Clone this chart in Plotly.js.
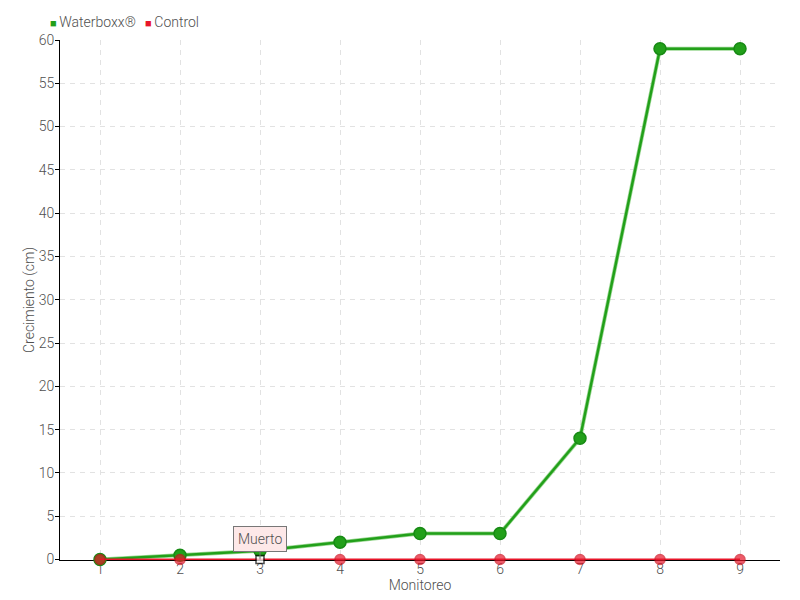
<!DOCTYPE html>
<html>
<head>
<meta charset="utf-8">
<script src="https://cdn.plot.ly/plotly-3.0.1.min.js"></script>
<style>html,body{margin:0;padding:0;background:#fff;}#chart{width:800px;height:600px;}</style>
</head>
<body>
<div id="chart"></div>
<script>
var categories = [1, 2, 3, 4, 5, 6, 7, 8, 9];
var waterboxx = [0, 0.5, 1, 2, 3, 3, 14, 59, 59];
var control = [0, 0, 0, 0, 0, 0, 0, 0, 0];
var seriesNames = ["Waterboxx®", "Control"];
var seriesColors = ["#22a01a", "#e8162a"];
var annotationText = "Muerto";
var annotationIndex = 2;

var fontFam = "Roboto, 'DejaVu Sans', sans-serif";
var txtColor = "#505050";
var fw = 300;

var ctrlSymbols = categories.map(function (c, i) { return i === annotationIndex ? "square" : "circle"; });
var ctrlColors = categories.map(function (c, i) { return i === annotationIndex ? "#ffffff" : seriesColors[1]; });
var ctrlLineColors = categories.map(function (c, i) { return i === annotationIndex ? "#000000" : "#d0101f"; });
var ctrlSizes = categories.map(function (c, i) { return i === annotationIndex ? 8 : 10; });

function legendLabel(name, color) {
  return '<span style="font-size:11px;color:' + color + '">■ </span>' + name;
}

var traces = [
  {
    x: categories, y: waterboxx, type: "scatter", mode: "lines",
    line: {color: "rgba(130,205,120,0.8)", width: 4}, showlegend: false, hoverinfo: "skip", cliponaxis: false
  },
  {
    x: categories, y: waterboxx, name: seriesNames[0], type: "scatter", mode: "lines+markers",
    line: {color: seriesColors[0], width: 2.5},
    marker: {color: seriesColors[0], size: 12, symbol: "circle", line: {color: "#178a14", width: 1.5}},
    hoverinfo: "skip", showlegend: false, cliponaxis: false
  },
  {
    x: categories, y: control, name: seriesNames[1], type: "scatter", mode: "lines+markers",
    line: {color: seriesColors[1], width: 2},
    marker: {color: ctrlColors, size: ctrlSizes, symbol: ctrlSymbols, line: {color: ctrlLineColors, width: 1.5}},
    hoverinfo: "skip", showlegend: false, cliponaxis: false
  },
  {
    x: [null], y: [null], name: legendLabel(seriesNames[0], seriesColors[0]), type: "scatter", mode: "markers",
    marker: {color: "rgba(0,0,0,0)", size: 1}, showlegend: true
  },
  {
    x: [null], y: [null], name: legendLabel(seriesNames[1], seriesColors[1]), type: "scatter", mode: "markers",
    marker: {color: "rgba(0,0,0,0)", size: 1}, showlegend: true
  }
];

var layout = {
  width: 800, height: 600,
  margin: {l: 60, r: 20, t: 40, b: 40, autoexpand: false},
  paper_bgcolor: "#ffffff", plot_bgcolor: "#ffffff",
  font: {family: fontFam, size: 14, color: txtColor, weight: fw},
  showlegend: true,
  legend: {orientation: "h", x: -0.0695, xanchor: "left", y: 1.0346, yanchor: "middle",
    font: {family: fontFam, size: 14, color: txtColor, weight: fw}, itemwidth: 30, tracegroupgap: 0,
    entrywidth: 50, entrywidthmode: "pixels",
    bgcolor: "rgba(0,0,0,0)", itemclick: false},
  xaxis: {
    range: [0.5, 9.5], tickmode: "array", tickvals: categories, ticktext: categories.map(String),
    showgrid: true, gridcolor: "#e2e2e2", griddash: "5px,5px", gridwidth: 1,
    showline: true, linecolor: "#000000", linewidth: 1, zeroline: false, layer: "below traces",
    ticks: "", ticklabelstandoff: -4,
    tickfont: {family: fontFam, size: 14, color: txtColor, weight: fw},
    title: {text: "Monitoreo", standoff: 0, font: {family: fontFam, size: 14, color: txtColor, weight: fw}}
  },
  yaxis: {
    range: [-0.06, 60], tickmode: "array", tickvals: [0,5,10,15,20,25,30,35,40,45,50,55,60],
    showgrid: true, gridcolor: "#e2e2e2", griddash: "5px,5px", gridwidth: 1,
    showline: true, linecolor: "#000000", linewidth: 1, zeroline: false, layer: "below traces",
    ticks: "outside", ticklen: 4, tickcolor: "#000000", ticklabelstandoff: -2,
    tickfont: {family: fontFam, size: 14, color: txtColor, weight: fw},
    title: {text: "Crecimiento (cm)", standoff: 0, font: {family: fontFam, size: 14, color: txtColor, weight: fw}}
  },
  annotations: [{
    x: categories[annotationIndex], y: control[annotationIndex], xref: "x", yref: "y",
    text: annotationText, showarrow: true, arrowhead: 0, arrowwidth: 1, arrowcolor: "#777777",
    ax: 0, ay: -20, bgcolor: "#fde8e8", bordercolor: "#777777", borderwidth: 1, borderpad: 4,
    font: {family: fontFam, size: 14, color: txtColor, weight: fw}
  }]
};

Plotly.newPlot("chart", traces, layout, {displayModeBar: false, staticPlot: true});
</script>
</body>
</html>
